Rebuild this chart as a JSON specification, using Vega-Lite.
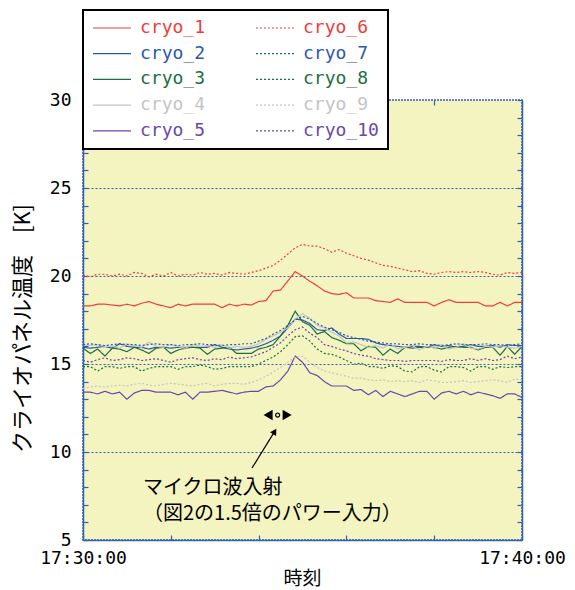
{
  "$schema": "https://vega.github.io/schema/vega-lite/v6.json",
  "autosize": {"type": "none"},
  "width": 439,
  "height": 440,
  "padding": {"left": 83, "top": 100, "right": 53, "bottom": 50},
  "background": "white",
  "config": {
    "view": {"fill": "#f4f4c0", "stroke": "#3560b0", "strokeWidth": 1.5, "strokeDash": [2, 1]},
    "axis": {
      "labelFont": "DejaVu Sans Mono", "labelFontSize": 18, "labelColor": "black",
      "titleFont": "Noto Sans CJK JP", "titleFontWeight": "normal", "titleColor": "black",
      "domainColor": "#3560b0", "domainWidth": 1.5, "tickColor": "#3560b0", "tickWidth": 1.2,
      "gridColor": "#3560b0", "gridDash": [2, 2], "gridWidth": 1
    },
    "legend": {
      "columns": 2, "symbolType": "stroke", "symbolSize": 1444, "symbolStrokeWidth": 1.2,
      "labelFont": "DejaVu Sans Mono", "labelFontSize": 18, "labelOffset": 8, "labelLimit": 0,
      "clipHeight": 18, "rowPadding": 7.7, "columnPadding": 49, "padding": 9,
      "strokeColor": "black", "fillColor": "white", "strokeWidth": 2
    }
  },
  "datasets": {
    "temps": [
      {"t":"2020-01-01T17:30:00","cryo_1":18.3,"cryo_2":15.95,"cryo_3":15.9,"cryo_4":16.1,"cryo_5":13.4,"cryo_6":20.05,"cryo_7":16.1,"cryo_8":14.85,"cryo_9":13.6,"cryo_10":15.2},
      {"t":"2020-01-01T17:30:10","cryo_1":18.3,"cryo_2":15.9,"cryo_3":15.6,"cryo_4":16.05,"cryo_5":13.4,"cryo_6":19.95,"cryo_7":16.15,"cryo_8":14.85,"cryo_9":13.7,"cryo_10":15.1},
      {"t":"2020-01-01T17:30:20","cryo_1":18.4,"cryo_2":15.95,"cryo_3":15.85,"cryo_4":16.1,"cryo_5":13.3,"cryo_6":20.1,"cryo_7":16.1,"cryo_8":14.6,"cryo_9":13.75,"cryo_10":15.25},
      {"t":"2020-01-01T17:30:30","cryo_1":18.4,"cryo_2":16.0,"cryo_3":15.45,"cryo_4":16.0,"cryo_5":13.45,"cryo_6":20.1,"cryo_7":16.05,"cryo_8":14.85,"cryo_9":13.7,"cryo_10":15.35},
      {"t":"2020-01-01T17:30:40","cryo_1":18.35,"cryo_2":15.9,"cryo_3":15.9,"cryo_4":16.0,"cryo_5":13.3,"cryo_6":20.0,"cryo_7":16.1,"cryo_8":14.85,"cryo_9":13.75,"cryo_10":15.2},
      {"t":"2020-01-01T17:30:50","cryo_1":18.3,"cryo_2":16.15,"cryo_3":15.85,"cryo_4":15.9,"cryo_5":13.4,"cryo_6":20.1,"cryo_7":16.15,"cryo_8":14.75,"cryo_9":13.8,"cryo_10":15.25},
      {"t":"2020-01-01T17:31:00","cryo_1":18.4,"cryo_2":16.0,"cryo_3":15.7,"cryo_4":16.15,"cryo_5":13.0,"cryo_6":20.0,"cryo_7":16.1,"cryo_8":14.85,"cryo_9":13.75,"cryo_10":15.35},
      {"t":"2020-01-01T17:31:10","cryo_1":18.3,"cryo_2":15.95,"cryo_3":15.95,"cryo_4":16.05,"cryo_5":13.35,"cryo_6":20.2,"cryo_7":16.1,"cryo_8":14.85,"cryo_9":13.85,"cryo_10":15.3},
      {"t":"2020-01-01T17:31:20","cryo_1":18.45,"cryo_2":15.95,"cryo_3":15.8,"cryo_4":15.95,"cryo_5":13.5,"cryo_6":20.15,"cryo_7":16.05,"cryo_8":14.6,"cryo_9":13.9,"cryo_10":15.2},
      {"t":"2020-01-01T17:31:30","cryo_1":18.55,"cryo_2":15.85,"cryo_3":15.6,"cryo_4":16.25,"cryo_5":13.5,"cryo_6":19.95,"cryo_7":16.1,"cryo_8":14.75,"cryo_9":13.8,"cryo_10":15.25},
      {"t":"2020-01-01T17:31:40","cryo_1":18.4,"cryo_2":15.95,"cryo_3":15.9,"cryo_4":16.0,"cryo_5":13.4,"cryo_6":20.1,"cryo_7":16.15,"cryo_8":14.85,"cryo_9":13.75,"cryo_10":15.3},
      {"t":"2020-01-01T17:31:50","cryo_1":18.3,"cryo_2":15.95,"cryo_3":15.95,"cryo_4":15.95,"cryo_5":13.4,"cryo_6":20.0,"cryo_7":16.1,"cryo_8":14.85,"cryo_9":13.85,"cryo_10":15.2},
      {"t":"2020-01-01T17:32:00","cryo_1":18.2,"cryo_2":15.9,"cryo_3":15.6,"cryo_4":16.1,"cryo_5":13.4,"cryo_6":20.2,"cryo_7":16.1,"cryo_8":14.85,"cryo_9":13.9,"cryo_10":15.1},
      {"t":"2020-01-01T17:32:10","cryo_1":18.4,"cryo_2":15.95,"cryo_3":15.8,"cryo_4":16.0,"cryo_5":13.25,"cryo_6":20.0,"cryo_7":16.05,"cryo_8":14.7,"cryo_9":13.85,"cryo_10":15.25},
      {"t":"2020-01-01T17:32:20","cryo_1":18.3,"cryo_2":15.95,"cryo_3":15.9,"cryo_4":15.9,"cryo_5":13.4,"cryo_6":20.1,"cryo_7":16.1,"cryo_8":14.85,"cryo_9":13.8,"cryo_10":15.3},
      {"t":"2020-01-01T17:32:30","cryo_1":18.4,"cryo_2":15.95,"cryo_3":15.95,"cryo_4":16.1,"cryo_5":13.0,"cryo_6":20.05,"cryo_7":16.1,"cryo_8":14.85,"cryo_9":13.75,"cryo_10":15.35},
      {"t":"2020-01-01T17:32:40","cryo_1":18.4,"cryo_2":15.95,"cryo_3":15.9,"cryo_4":16.0,"cryo_5":13.4,"cryo_6":20.2,"cryo_7":16.15,"cryo_8":14.95,"cryo_9":13.85,"cryo_10":15.25},
      {"t":"2020-01-01T17:32:50","cryo_1":18.4,"cryo_2":15.95,"cryo_3":15.55,"cryo_4":16.05,"cryo_5":13.4,"cryo_6":20.1,"cryo_7":16.1,"cryo_8":14.85,"cryo_9":13.9,"cryo_10":15.2},
      {"t":"2020-01-01T17:33:00","cryo_1":18.4,"cryo_2":16.1,"cryo_3":15.85,"cryo_4":15.95,"cryo_5":13.45,"cryo_6":20.15,"cryo_7":16.1,"cryo_8":14.7,"cryo_9":13.75,"cryo_10":15.3},
      {"t":"2020-01-01T17:33:10","cryo_1":18.2,"cryo_2":15.95,"cryo_3":15.9,"cryo_4":16.1,"cryo_5":13.5,"cryo_6":20.05,"cryo_7":16.05,"cryo_8":14.75,"cryo_9":13.85,"cryo_10":15.25},
      {"t":"2020-01-01T17:33:20","cryo_1":18.4,"cryo_2":15.85,"cryo_3":15.95,"cryo_4":15.9,"cryo_5":13.4,"cryo_6":20.2,"cryo_7":16.1,"cryo_8":14.85,"cryo_9":13.9,"cryo_10":15.4},
      {"t":"2020-01-01T17:33:30","cryo_1":18.3,"cryo_2":15.8,"cryo_3":15.6,"cryo_4":16.0,"cryo_5":13.3,"cryo_6":20.15,"cryo_7":16.1,"cryo_8":14.85,"cryo_9":13.9,"cryo_10":15.3},
      {"t":"2020-01-01T17:33:40","cryo_1":18.4,"cryo_2":15.85,"cryo_3":15.6,"cryo_4":15.95,"cryo_5":13.4,"cryo_6":20.1,"cryo_7":16.15,"cryo_8":14.85,"cryo_9":13.85,"cryo_10":15.35},
      {"t":"2020-01-01T17:33:50","cryo_1":18.35,"cryo_2":15.9,"cryo_3":15.6,"cryo_4":16.0,"cryo_5":13.45,"cryo_6":20.2,"cryo_7":16.15,"cryo_8":14.85,"cryo_9":13.95,"cryo_10":15.4},
      {"t":"2020-01-01T17:34:00","cryo_1":18.55,"cryo_2":16.0,"cryo_3":15.85,"cryo_4":16.15,"cryo_5":13.45,"cryo_6":20.3,"cryo_7":16.3,"cryo_8":15.0,"cryo_9":14.1,"cryo_10":15.55},
      {"t":"2020-01-01T17:34:10","cryo_1":18.6,"cryo_2":16.15,"cryo_3":15.95,"cryo_4":16.4,"cryo_5":13.7,"cryo_6":20.45,"cryo_7":16.45,"cryo_8":15.2,"cryo_9":14.3,"cryo_10":15.7},
      {"t":"2020-01-01T17:34:20","cryo_1":19.15,"cryo_2":16.35,"cryo_3":16.1,"cryo_4":16.6,"cryo_5":13.75,"cryo_6":20.6,"cryo_7":16.7,"cryo_8":15.4,"cryo_9":14.55,"cryo_10":15.95},
      {"t":"2020-01-01T17:34:30","cryo_1":19.2,"cryo_2":16.6,"cryo_3":16.6,"cryo_4":16.8,"cryo_5":14.1,"cryo_6":20.9,"cryo_7":16.9,"cryo_8":15.7,"cryo_9":14.8,"cryo_10":16.2},
      {"t":"2020-01-01T17:34:40","cryo_1":19.72,"cryo_2":17.05,"cryo_3":17.2,"cryo_4":17.05,"cryo_5":14.6,"cryo_6":21.25,"cryo_7":17.2,"cryo_8":16.1,"cryo_9":15.1,"cryo_10":16.6},
      {"t":"2020-01-01T17:34:50","cryo_1":20.25,"cryo_2":17.55,"cryo_3":18.0,"cryo_4":17.55,"cryo_5":15.45,"cryo_6":21.6,"cryo_7":17.5,"cryo_8":16.55,"cryo_9":15.4,"cryo_10":16.95},
      {"t":"2020-01-01T17:35:00","cryo_1":20.0,"cryo_2":17.5,"cryo_3":17.4,"cryo_4":17.85,"cryo_5":15.1,"cryo_6":21.8,"cryo_7":17.7,"cryo_8":16.6,"cryo_9":15.45,"cryo_10":17.1},
      {"t":"2020-01-01T17:35:10","cryo_1":19.7,"cryo_2":17.3,"cryo_3":17.2,"cryo_4":17.6,"cryo_5":14.5,"cryo_6":21.7,"cryo_7":17.55,"cryo_8":16.3,"cryo_9":15.1,"cryo_10":16.75},
      {"t":"2020-01-01T17:35:20","cryo_1":19.45,"cryo_2":16.95,"cryo_3":16.7,"cryo_4":17.2,"cryo_5":14.35,"cryo_6":21.7,"cryo_7":17.3,"cryo_8":15.85,"cryo_9":14.8,"cryo_10":16.5},
      {"t":"2020-01-01T17:35:30","cryo_1":19.15,"cryo_2":16.9,"cryo_3":16.85,"cryo_4":17.05,"cryo_5":14.0,"cryo_6":21.55,"cryo_7":17.1,"cryo_8":15.6,"cryo_9":14.6,"cryo_10":16.1},
      {"t":"2020-01-01T17:35:40","cryo_1":19.0,"cryo_2":17.05,"cryo_3":16.5,"cryo_4":16.8,"cryo_5":13.75,"cryo_6":21.35,"cryo_7":16.95,"cryo_8":15.55,"cryo_9":14.5,"cryo_10":16.0},
      {"t":"2020-01-01T17:35:50","cryo_1":18.95,"cryo_2":16.7,"cryo_3":16.35,"cryo_4":16.6,"cryo_5":13.75,"cryo_6":21.5,"cryo_7":16.8,"cryo_8":15.4,"cryo_9":14.4,"cryo_10":15.85},
      {"t":"2020-01-01T17:36:00","cryo_1":19.05,"cryo_2":16.45,"cryo_3":16.15,"cryo_4":16.2,"cryo_5":13.75,"cryo_6":21.3,"cryo_7":16.6,"cryo_8":15.2,"cryo_9":14.3,"cryo_10":15.75},
      {"t":"2020-01-01T17:36:10","cryo_1":18.75,"cryo_2":16.45,"cryo_3":16.15,"cryo_4":16.25,"cryo_5":13.5,"cryo_6":21.15,"cryo_7":16.5,"cryo_8":15.0,"cryo_9":14.2,"cryo_10":15.6},
      {"t":"2020-01-01T17:36:20","cryo_1":18.75,"cryo_2":16.45,"cryo_3":15.75,"cryo_4":16.1,"cryo_5":13.55,"cryo_6":21.0,"cryo_7":16.4,"cryo_8":15.05,"cryo_9":14.2,"cryo_10":15.5},
      {"t":"2020-01-01T17:36:30","cryo_1":18.75,"cryo_2":16.4,"cryo_3":16.0,"cryo_4":15.95,"cryo_5":13.25,"cryo_6":20.9,"cryo_7":16.3,"cryo_8":14.85,"cryo_9":14.1,"cryo_10":15.45},
      {"t":"2020-01-01T17:36:40","cryo_1":18.6,"cryo_2":16.2,"cryo_3":15.95,"cryo_4":16.05,"cryo_5":13.5,"cryo_6":20.75,"cryo_7":16.25,"cryo_8":14.85,"cryo_9":14.05,"cryo_10":15.3},
      {"t":"2020-01-01T17:36:50","cryo_1":18.55,"cryo_2":16.1,"cryo_3":15.5,"cryo_4":15.9,"cryo_5":13.15,"cryo_6":20.6,"cryo_7":16.2,"cryo_8":14.75,"cryo_9":14.1,"cryo_10":15.25},
      {"t":"2020-01-01T17:37:00","cryo_1":18.5,"cryo_2":16.05,"cryo_3":15.85,"cryo_4":16.15,"cryo_5":13.45,"cryo_6":20.55,"cryo_7":16.15,"cryo_8":14.9,"cryo_9":14.0,"cryo_10":15.2},
      {"t":"2020-01-01T17:37:10","cryo_1":18.7,"cryo_2":16.0,"cryo_3":15.6,"cryo_4":15.85,"cryo_5":13.3,"cryo_6":20.45,"cryo_7":16.15,"cryo_8":14.85,"cryo_9":14.05,"cryo_10":15.2},
      {"t":"2020-01-01T17:37:20","cryo_1":18.5,"cryo_2":15.95,"cryo_3":15.95,"cryo_4":15.95,"cryo_5":13.15,"cryo_6":20.35,"cryo_7":16.1,"cryo_8":14.6,"cryo_9":14.0,"cryo_10":15.15},
      {"t":"2020-01-01T17:37:30","cryo_1":18.5,"cryo_2":16.0,"cryo_3":15.9,"cryo_4":16.05,"cryo_5":13.3,"cryo_6":20.25,"cryo_7":16.1,"cryo_8":14.55,"cryo_9":14.05,"cryo_10":15.2},
      {"t":"2020-01-01T17:37:40","cryo_1":18.5,"cryo_2":16.0,"cryo_3":15.95,"cryo_4":15.8,"cryo_5":13.45,"cryo_6":20.3,"cryo_7":16.15,"cryo_8":14.85,"cryo_9":13.95,"cryo_10":15.2},
      {"t":"2020-01-01T17:37:50","cryo_1":18.5,"cryo_2":15.95,"cryo_3":15.95,"cryo_4":16.0,"cryo_5":13.45,"cryo_6":20.15,"cryo_7":16.1,"cryo_8":14.85,"cryo_9":14.1,"cryo_10":15.2},
      {"t":"2020-01-01T17:38:00","cryo_1":18.3,"cryo_2":16.1,"cryo_3":15.95,"cryo_4":15.9,"cryo_5":13.0,"cryo_6":20.1,"cryo_7":16.1,"cryo_8":14.65,"cryo_9":14.05,"cryo_10":15.2},
      {"t":"2020-01-01T17:38:10","cryo_1":18.5,"cryo_2":16.0,"cryo_3":15.85,"cryo_4":16.1,"cryo_5":13.35,"cryo_6":20.2,"cryo_7":16.05,"cryo_8":14.55,"cryo_9":13.95,"cryo_10":15.15},
      {"t":"2020-01-01T17:38:20","cryo_1":18.65,"cryo_2":16.05,"cryo_3":15.95,"cryo_4":15.85,"cryo_5":13.45,"cryo_6":20.25,"cryo_7":16.1,"cryo_8":14.85,"cryo_9":13.95,"cryo_10":15.25},
      {"t":"2020-01-01T17:38:30","cryo_1":18.5,"cryo_2":15.95,"cryo_3":16.0,"cryo_4":15.95,"cryo_5":13.3,"cryo_6":20.2,"cryo_7":16.15,"cryo_8":14.85,"cryo_9":14.0,"cryo_10":15.2},
      {"t":"2020-01-01T17:38:40","cryo_1":18.5,"cryo_2":16.0,"cryo_3":15.95,"cryo_4":16.15,"cryo_5":13.45,"cryo_6":20.25,"cryo_7":16.1,"cryo_8":14.8,"cryo_9":14.05,"cryo_10":15.2},
      {"t":"2020-01-01T17:38:50","cryo_1":18.5,"cryo_2":16.1,"cryo_3":15.95,"cryo_4":15.9,"cryo_5":13.25,"cryo_6":20.2,"cryo_7":16.1,"cryo_8":14.6,"cryo_9":13.95,"cryo_10":15.3},
      {"t":"2020-01-01T17:39:00","cryo_1":18.5,"cryo_2":16.0,"cryo_3":15.8,"cryo_4":15.85,"cryo_5":13.4,"cryo_6":20.25,"cryo_7":16.1,"cryo_8":14.85,"cryo_9":14.0,"cryo_10":15.2},
      {"t":"2020-01-01T17:39:10","cryo_1":18.3,"cryo_2":16.0,"cryo_3":15.95,"cryo_4":16.0,"cryo_5":13.3,"cryo_6":20.2,"cryo_7":16.15,"cryo_8":14.85,"cryo_9":14.05,"cryo_10":15.3},
      {"t":"2020-01-01T17:39:20","cryo_1":18.3,"cryo_2":16.05,"cryo_3":15.95,"cryo_4":15.95,"cryo_5":13.2,"cryo_6":20.1,"cryo_7":16.1,"cryo_8":14.7,"cryo_9":14.1,"cryo_10":15.2},
      {"t":"2020-01-01T17:39:30","cryo_1":18.5,"cryo_2":15.95,"cryo_3":15.5,"cryo_4":16.05,"cryo_5":13.05,"cryo_6":20.05,"cryo_7":16.1,"cryo_8":14.85,"cryo_9":14.05,"cryo_10":15.25},
      {"t":"2020-01-01T17:39:40","cryo_1":18.3,"cryo_2":16.1,"cryo_3":16.0,"cryo_4":15.95,"cryo_5":13.3,"cryo_6":20.2,"cryo_7":16.05,"cryo_8":14.8,"cryo_9":13.95,"cryo_10":15.45},
      {"t":"2020-01-01T17:39:50","cryo_1":18.5,"cryo_2":16.05,"cryo_3":15.55,"cryo_4":15.9,"cryo_5":13.3,"cryo_6":20.15,"cryo_7":16.1,"cryo_8":14.85,"cryo_9":14.15,"cryo_10":15.3},
      {"t":"2020-01-01T17:40:00","cryo_1":18.5,"cryo_2":16.05,"cryo_3":16.0,"cryo_4":16.0,"cryo_5":13.1,"cryo_6":20.2,"cryo_7":16.15,"cryo_8":14.85,"cryo_9":14.1,"cryo_10":15.4}
    ],
    "note": [
      {"t":"2020-01-01T17:31:22","temp":7.95,"text":"マイクロ波入射"},
      {"t":"2020-01-01T17:31:22","temp":6.48,"text":"（図2の1.5倍のパワー入力）"}
    ],
    "arrow": [{"t":"2020-01-01T17:33:51","temp":9.09,"t2":"2020-01-01T17:34:22","temp2":11.17}],
    "head": [{"t":"2020-01-01T17:34:22","temp":11.17}],
    "spanL": [{"t":"2020-01-01T17:34:13","temp":12.1}],
    "spanR": [{"t":"2020-01-01T17:34:39","temp":12.1}],
    "spanC": [{"t":"2020-01-01T17:34:26","temp":12.1}]
  },
  "resolve": {"axis": {"x": "independent", "y": "independent"}},
  "layer": [
    {
      "data": {"name": "temps"},
      "transform": [{"fold": ["cryo_1","cryo_2","cryo_3","cryo_4","cryo_5","cryo_6","cryo_7","cryo_8","cryo_9","cryo_10"], "as": ["series","temp"]}],
      "mark": {"type": "line", "strokeWidth": 1.2},
      "encoding": {
        "x": {
          "field": "t", "type": "temporal",
          "scale": {"domain": [{"year":2020,"month":1,"date":1,"hours":17,"minutes":30},{"year":2020,"month":1,"date":1,"hours":17,"minutes":40}], "nice": false},
          "axis": {
            "orient": "bottom",
            "values": [{"year":2020,"month":1,"date":1,"hours":17,"minutes":30},{"year":2020,"month":1,"date":1,"hours":17,"minutes":32},{"year":2020,"month":1,"date":1,"hours":17,"minutes":34},{"year":2020,"month":1,"date":1,"hours":17,"minutes":36},{"year":2020,"month":1,"date":1,"hours":17,"minutes":38},{"year":2020,"month":1,"date":1,"hours":17,"minutes":40}],
            "labelExpr": "minutes(datum.value) % 10 === 0 ? timeFormat(datum.value, '%H:%M:%S') : ''",
            "labelFlush": false, "labelOverlap": false, "labelBound": false,
            "tickSize": -5, "labelPadding": 14, "grid": false,
            "title": "時刻", "titleFontSize": 19, "titleX": 219, "titleY": 38, "titleBaseline": "middle", "titleAnchor": "middle"
          }
        },
        "y": {
          "field": "temp", "type": "quantitative",
          "scale": {"domain": [5, 30], "nice": false, "zero": false},
          "axis": {
            "orient": "left",
            "values": [5,6,7,8,9,10,11,12,13,14,15,16,17,18,19,20,21,22,23,24,25,26,27,28,29,30],
            "labelExpr": "datum.value % 5 === 0 ? datum.label : ''",
            "labelOverlap": false, "labelBound": false, "labelFlush": false,
            "tickSize": -5, "labelPadding": 17,
            "grid": true,
            "gridOpacity": {"condition": {"test": "datum.value % 5 === 0 && datum.value > 5 && datum.value < 30", "value": 1}, "value": 0},
            "title": "クライオパネル温度　[K]", "titleFontSize": 22, "titleAngle": -90,
            "titleX": -61, "titleY": 228, "titleBaseline": "middle", "titleAlign": "center"
          }
        },
        "color": {
          "field": "series", "type": "nominal",
          "scale": {
            "domain": ["cryo_1","cryo_2","cryo_3","cryo_4","cryo_5","cryo_6","cryo_7","cryo_8","cryo_9","cryo_10"],
            "range": ["#f03c3c","#2a58b0","#1a7040","#c4c4c4","#6a48a8","#f03c3c","#2a58b0","#1a7040","#c4c4c4","#6a48a8"]
          },
          "legend": {
            "title": null, "orient": "none", "legendX": 0, "legendY": -90,
            "encode": {"labels": {"update": {"fill": {"scale": "color", "field": "value"}}}}
          }
        },
        "strokeDash": {
          "field": "series", "type": "nominal",
          "scale": {
            "domain": ["cryo_1","cryo_2","cryo_3","cryo_4","cryo_5","cryo_6","cryo_7","cryo_8","cryo_9","cryo_10"],
            "range": [[1,0],[1,0],[1,0],[1,0],[1,0],[2,2],[2,2],[2,2],[2,2],[2,2]]
          },
          "legend": {
            "title": null, "orient": "none", "legendX": 0, "legendY": -90,
            "encode": {"labels": {"update": {"fill": {"scale": "color", "field": "value"}}}}
          }
        }
      }
    },
    {
      "data": {"name": "note"},
      "mark": {"type": "text", "align": "left", "baseline": "middle", "font": "Noto Sans CJK JP", "fontSize": 20, "color": "black"},
      "encoding": {
        "x": {
          "field": "t", "type": "temporal",
          "scale": {"domain": [{"year":2020,"month":1,"date":1,"hours":17,"minutes":30},{"year":2020,"month":1,"date":1,"hours":17,"minutes":40}], "nice": false},
          "axis": {
            "orient": "top",
            "values": [{"year":2020,"month":1,"date":1,"hours":17,"minutes":30},{"year":2020,"month":1,"date":1,"hours":17,"minutes":32},{"year":2020,"month":1,"date":1,"hours":17,"minutes":34},{"year":2020,"month":1,"date":1,"hours":17,"minutes":36},{"year":2020,"month":1,"date":1,"hours":17,"minutes":38},{"year":2020,"month":1,"date":1,"hours":17,"minutes":40}],
            "labels": false, "domain": false, "grid": false, "tickSize": -5, "title": null
          }
        },
        "y": {
          "field": "temp", "type": "quantitative",
          "scale": {"domain": [5, 30], "nice": false, "zero": false},
          "axis": {
            "orient": "right",
            "values": [5,6,7,8,9,10,11,12,13,14,15,16,17,18,19,20,21,22,23,24,25,26,27,28,29,30],
            "labels": false, "domain": true, "grid": false, "tickSize": -5, "title": null
          }
        },
        "text": {"field": "text", "type": "nominal"}
      }
    },
    {
      "data": {"name": "arrow"},
      "mark": {"type": "rule", "color": "black", "strokeWidth": 1.2},
      "encoding": {
        "x": {"field": "t", "type": "temporal", "axis": null},
        "x2": {"field": "t2"},
        "y": {"field": "temp", "type": "quantitative", "axis": null},
        "y2": {"field": "temp2"}
      }
    },
    {
      "data": {"name": "head"},
      "mark": {"type": "point", "shape": "triangle-up", "filled": true, "color": "black", "size": 50, "angle": 32, "opacity": 1},
      "encoding": {
        "x": {"field": "t", "type": "temporal", "axis": null},
        "y": {"field": "temp", "type": "quantitative", "axis": null}
      }
    },
    {
      "data": {"name": "spanL"},
      "mark": {"type": "point", "shape": "triangle-left", "filled": true, "color": "black", "size": 110, "opacity": 1},
      "encoding": {
        "x": {"field": "t", "type": "temporal", "axis": null},
        "y": {"field": "temp", "type": "quantitative", "axis": null}
      }
    },
    {
      "data": {"name": "spanR"},
      "mark": {"type": "point", "shape": "triangle-right", "filled": true, "color": "black", "size": 110, "opacity": 1},
      "encoding": {
        "x": {"field": "t", "type": "temporal", "axis": null},
        "y": {"field": "temp", "type": "quantitative", "axis": null}
      }
    },
    {
      "data": {"name": "spanC"},
      "mark": {"type": "point", "shape": "circle", "filled": false, "color": "black", "size": 16, "strokeWidth": 1.2, "opacity": 1},
      "encoding": {
        "x": {"field": "t", "type": "temporal", "axis": null},
        "y": {"field": "temp", "type": "quantitative", "axis": null}
      }
    }
  ]
}
